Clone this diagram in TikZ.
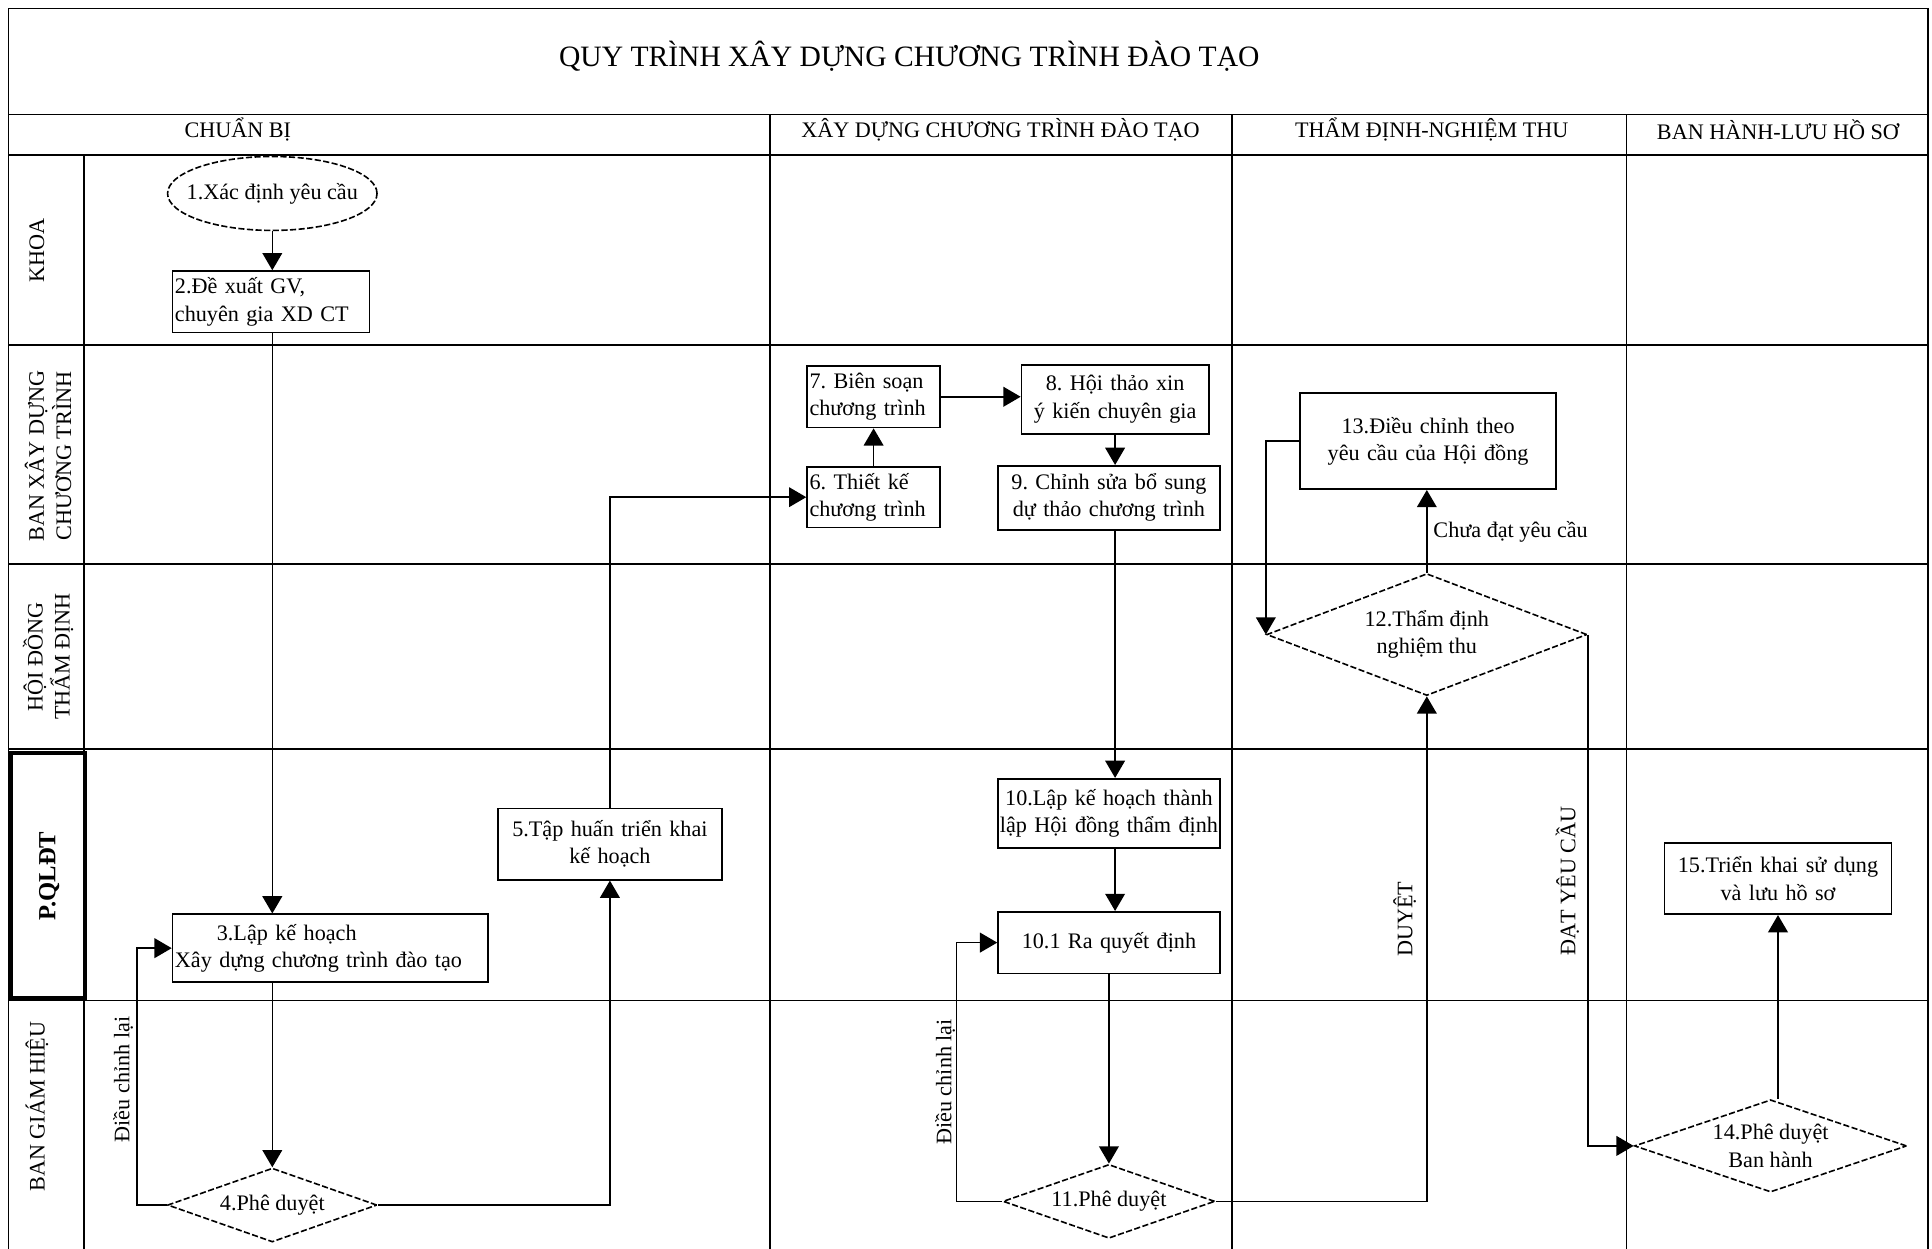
\documentclass[tikz,border=0pt]{standalone}
\usepackage{fontspec}
\setmainfont{Liberation Serif}
\frenchspacing
\usetikzlibrary{arrows.meta,shapes.geometric}
\begin{document}
\begin{tikzpicture}[x=1pt,y=-1pt,
  every node/.style={font=\fontsize{18}{22}\selectfont},
  grid/.style={line width=1.4pt},
  box/.style={draw, line width=1.3pt, rectangle, inner sep=2pt},
  dia/.style={draw, diamond, line width=1.3pt, inner sep=0pt, align=center, dash pattern=on 5pt off 2pt},
  conn/.style={line width=1.3pt},
  arr/.style={conn, -{Triangle[length=14pt,width=16pt]}},
  lane/.style={rotate=90, align=center, font=\fontsize{18}{22}\selectfont},
  note/.style={font=\fontsize{18}{22}\selectfont}
]
\useasboundingbox (0,0) rectangle (1568,1013);
\clip (0,0) rectangle (1568,1013);
\fill[white] (0,0) rectangle (1568,1013);
% frame and grid
\draw[grid] (7,7) rectangle (1565,1040);
\draw[grid] (7,93) -- (1565,93);
\draw[grid] (7,126) -- (1565,126);
\draw[grid] (7,280) -- (1565,280);
\draw[grid] (7,458) -- (1565,458);
\draw[grid] (7,608) -- (1565,608);
\draw[grid] (7,812) -- (1565,812);
\draw[grid] (68,126) -- (68,1040);
\draw[grid] (625,93) -- (625,1040);
\draw[grid] (1000,93) -- (1000,1040);
\draw[grid] (1320,93) -- (1320,1040);
\draw[line width=3pt] (9,611) rectangle (69,810);

% title and headers
\node[font=\fontsize{24}{28}\selectfont] (title) at (738,46) {QUY TRÌNH XÂY DỰNG CHƯƠNG TRÌNH ĐÀO TẠO};
\node (h1) at (193,105) {CHUẨN BỊ};
\node (h2) at (812,105) {XÂY DỰNG CHƯƠNG TRÌNH ĐÀO TẠO};
\node (h3) at (1162,105) {THẨM ĐỊNH-NGHIỆM THU};
\node (h4) at (1443,105) {BAN HÀNH-LƯU HỒ SƠ};

% lane labels
\node[lane] (l1) at (30,203) {KHOA};
\node[lane] (l2) at (39,370) {BAN XÂY DỰNG\\CHƯƠNG TRÌNH};
\node[lane] (l3) at (39,533) {HỘI ĐỒNG\\THẨM ĐỊNH};
\node[lane, font=\fontsize{20}{24}\selectfont\bfseries] (l4) at (40,711) {P.QLĐT};
\node[lane] (l5) at (30,898) {BAN GIÁM HIỆU};

% process nodes
\node[draw, ellipse, line width=1.3pt, dash pattern=on 5pt off 2pt, minimum width=170pt, minimum height=60pt, inner sep=0pt,
  label={[name=n1t]center:1.Xác định yêu cầu}] (n1) at (221,157) {};
\node[box, text width=156pt, align=left, minimum height=50pt] (n2) at (220,245) {2.Đề xuất GV,\\chuyên gia XD CT};
\node[box, text width=252pt, align=left, minimum height=55pt] (n3) at (268,769.5) {\hspace*{34pt}3.Lập kế hoạch\\Xây dựng chương trình đào tạo};
\node[dia, minimum width=170pt, minimum height=60pt, shape aspect=2.8] (n4) at (221,978) {4.Phê duyệt};
\node[box, text width=178pt, align=center, minimum height=58pt] (n5) at (495,685) {5.Tập huấn triển khai\\kế hoạch};
\node[box, text width=104pt, align=left, minimum height=49pt] (n6) at (709,403.5) {6. Thiết kế\\chương trình};
\node[box, text width=104pt, align=left, minimum height=50pt] (n7) at (709,322) {7. Biên soạn\\chương trình};
\node[box, text width=148pt, align=center, minimum height=56pt] (n8) at (905,324) {8. Hội thảo xin\\ý kiến chuyên gia};
\node[box, text width=176pt, align=center, minimum height=52pt] (n9) at (900,404) {9. Chỉnh sửa bổ sung\\dự thảo chương trình};
\node[box, inner xsep=0pt, text width=180pt, align=center, minimum height=56pt] (n10) at (900,660) {10.Lập kế hoạch thành\\lập Hội đồng thẩm định};
\node[box, text width=176pt, align=center, minimum height=50pt] (n101) at (900,765) {10.1 Ra quyết định};
\node[dia, minimum width=172pt, minimum height=60pt, shape aspect=2.8] (n11) at (900,975) {11.Phê duyệt};
\node[dia, minimum width=260pt, minimum height=99pt, shape aspect=2.6] (n12) at (1158,515) {12.Thẩm định\\nghiệm thu};
\node[box, text width=204pt, align=center, minimum height=78pt] (n13) at (1159,358) {13.Điều chỉnh theo\\yêu cầu của Hội đồng};
\node[dia, minimum width=221pt, minimum height=75pt, shape aspect=2.9] (n14) at (1437,930) {14.Phê duyệt\\Ban hành};
\node[box, text width=180pt, align=center, minimum height=58pt] (n15) at (1443,713) {15.Triển khai sử dụng\\và lưu hồ sơ};

% connectors
\draw[arr] (n1.south) -- (n1.south |- n2.north);
\draw[arr] (n1.south |- n2.south) -- (n1.south |- n3.north);
\draw[arr] (n4.north |- n3.south) -- (n4.north);
\draw[arr] (n4.west) -- ++(-24,0) |- (n3.west);
\draw[arr] (n4.east) -| (n5.south);
\draw[arr] (n5.north) |- (n6.west);
\draw[arr] (n6.north) -- (n7.south);
\draw[arr] (n7.east) -- (n7.east -| n8.west);
\draw[arr] (n8.south) -- (n8.south |- n9.north);
\draw[arr] (n8.south |- n9.south) -- (n8.south |- n10.north);
\draw[arr] (n8.south |- n10.south) -- (n8.south |- n101.north);
\draw[arr] (n101.south) -- (n11.north);
\draw[arr] (n11.west) -- ++(-37,0) |- (n101.west);
\draw[arr] (n11.east) -| (n12.south);
\draw[arr] (n12.north) -- (n12.north |- n13.south);
\draw[arr] (n13.west) -| (n12.west);
\draw[arr] (n12.east) |- (n14.west);
\draw[arr] (n14.north -| n15.south) -- (n15.south);

% connector labels
\node[note, rotate=90] (e1) at (100,876) {Điều chỉnh lại};
\node[note, rotate=90] (e2) at (767,878) {Điều chỉnh lại};
\node[note, rotate=90] (e3) at (1140,746) {DUYỆT};
\node[note, rotate=90] (e4) at (1272,715) {ĐẠT YÊU CẦU};
\node[note] (e5) at (1226,432) {Chưa đạt yêu cầu};
\end{tikzpicture}
\end{document}
